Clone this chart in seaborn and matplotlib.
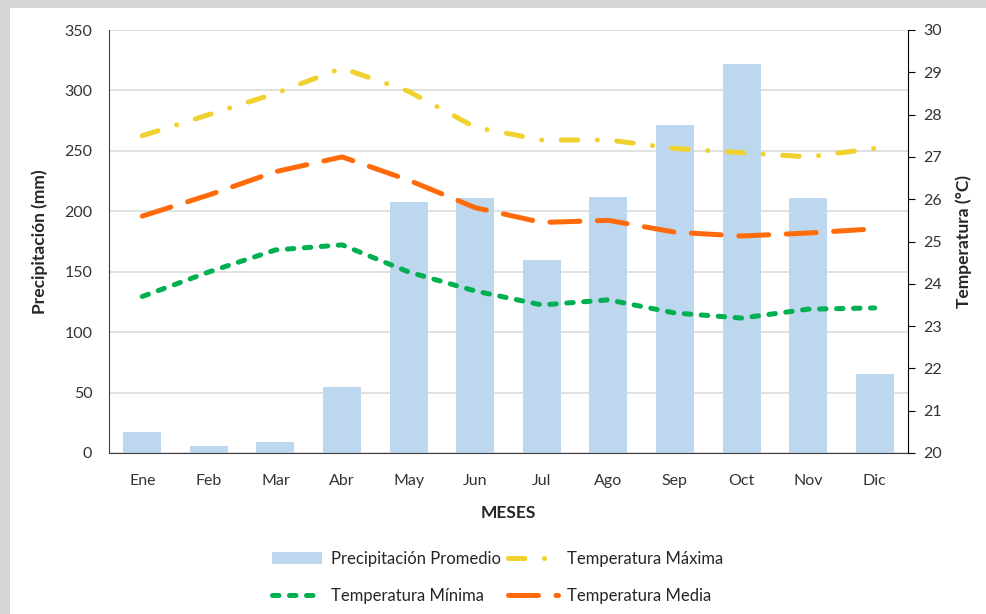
import matplotlib
matplotlib.use("Agg")
from matplotlib import pyplot as plt
from matplotlib.patches import Rectangle
from matplotlib.lines import Line2D
from matplotlib.patches import Patch
import pandas as pd
import seaborn as sns

# datos
meses = ["Ene", "Feb", "Mar", "Abr", "May", "Jun", "Jul", "Ago", "Sep", "Oct", "Nov", "Dic"]
precipitacion = [17, 6, 9, 55, 208, 211, 160, 212, 271, 322, 211, 65]
temp_max = [27.5, 28.0, 28.5, 29.1, 28.55, 27.7, 27.4, 27.4, 27.2, 27.1, 27.0, 27.2]
temp_media = [25.6, 26.1, 26.65, 27.0, 26.45, 25.8, 25.45, 25.5, 25.22, 25.13, 25.2, 25.3]
temp_min = [23.7, 24.28, 24.8, 24.92, 24.28, 23.83, 23.5, 23.62, 23.31, 23.19, 23.4, 23.43]

sns.set_style("white")
plt.rcParams['font.family'] = ['Lato', 'DejaVu Sans']

df = pd.DataFrame({"mes": meses, "precip": precipitacion,
                   "tmax": temp_max, "tmed": temp_media, "tmin": temp_min})

c_bar = "#BDD7EE"
c_max = "#F0D12E"
c_med = "#FF6A0A"
c_min = "#00B050"
lw = 3.6
dash_max = (3.3, 3.9, 0.01, 3.9)
dash_med = (6, 3.5)
dash_min = (1.3, 2.1)

fig = plt.figure(figsize=(9.86, 6.14), dpi=100)
fig.patch.set_facecolor('#d6d6d6')
fig.patches.append(Rectangle((10 / 986, 0), 1, (614 - 8) / 614, transform=fig.transFigure,
                             facecolor='white', edgecolor='none', zorder=-10))

ax = fig.add_axes([109 / 986, (614 - 453) / 614, (908 - 109) / 986, (453 - 30) / 614])
ax.set_facecolor('white')
sns.barplot(ax=ax, data=df, x="mes", y="precip", color=c_bar, width=0.57,
            saturation=1, edgecolor='none')
ax.set_ylim(0, 350)
ax.set_yticks(range(0, 351, 50))
ax.set_xlim(-0.5, 11.5)
ax.yaxis.grid(True, color='#d9d9d9', linewidth=1.1)
ax.set_axisbelow(True)
ax.set_xlabel("MESES", fontsize=12.5, fontweight='bold', labelpad=12)
ax.set_ylabel("Precipitación (mm)", fontsize=12.5, fontweight='bold', labelpad=12)
ax.tick_params(axis='x', length=0, labelsize=11.5, colors='#333333', pad=15)
ax.tick_params(axis='y', length=0, labelsize=11.5, colors='#333333', pad=12)
for s in ['top', 'right']:
    ax.spines[s].set_visible(False)
ax.spines['left'].set_color('#404040')
ax.spines['bottom'].set_color('#404040')

ax2 = ax.twinx()
sns.lineplot(ax=ax2, data=df, x="mes", y="tmax", color=c_max, linewidth=lw, sort=False)
sns.lineplot(ax=ax2, data=df, x="mes", y="tmed", color=c_med, linewidth=lw, sort=False)
sns.lineplot(ax=ax2, data=df, x="mes", y="tmin", color=c_min, linewidth=lw, sort=False)
line_max, line_med, line_min = ax2.lines[0], ax2.lines[1], ax2.lines[2]
line_max.set_dashes(dash_max)
line_med.set_dashes(dash_med)
line_min.set_dashes(dash_min)
for ln in (line_max, line_med, line_min):
    ln.set_dash_capstyle('round')
ax2.set_ylim(20, 30)
ax2.set_yticks(range(20, 31))
ax2.set_xlim(-0.5, 11.5)
ax2.set_ylabel("Temperatura (°C)", fontsize=12.5, fontweight='bold', labelpad=10)
ax2.tick_params(axis='y', length=5, direction='out', labelsize=11.5, colors='#333333',
                pad=6)
ax2.tick_params(axis='y', color='black')
for s in ['top', 'left', 'bottom']:
    ax2.spines[s].set_visible(False)
ax2.spines['right'].set_color('black')

handles = [
    Patch(facecolor=c_bar, edgecolor='none', label="Precipitación Promedio"),
    Line2D([], [], color=c_min, linewidth=lw, dashes=dash_min, dash_capstyle='round',
           label="Temperatura Mínima"),
    Line2D([], [], color=c_max, linewidth=lw, dashes=dash_max,
           dash_capstyle='round', label="Temperatura Máxima"),
    Line2D([], [], color=c_med, linewidth=lw, dashes=dash_med, dash_capstyle='round',
           label="Temperatura Media"),
]
fig.legend(handles=handles, loc='center', bbox_to_anchor=(0.505, 0.06), ncol=2,
           frameon=False, fontsize=12, handlelength=3.0, columnspacing=0.4,
           labelspacing=1.25, handletextpad=0.55)

fig.savefig("out.png", dpi=100, facecolor=fig.get_facecolor())
